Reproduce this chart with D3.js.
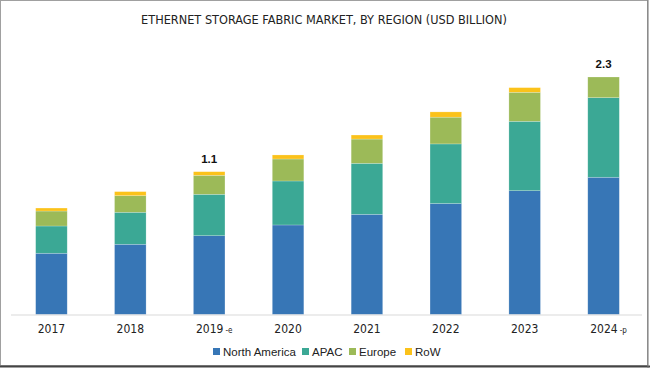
<!DOCTYPE html>
<html><head><meta charset="utf-8">
<script src="https://cdn.jsdelivr.net/npm/d3@7"></script>
<style>body{margin:0;background:#fff}svg{display:block}</style>
</head><body>
<svg id="c" width="650" height="368"></svg>
<script>
const years = ["2017","2018","2019","2020","2021","2022","2023","2024"];
const yearSuffix = ["","","-e","","","","","-p"];
const seriesNames = ["North America","APAC","Europe","RoW"];
const northAmerica = [0.593,0.680,0.763,0.867,0.970,1.075,1.199,1.329];
const apac =         [0.264,0.310,0.401,0.426,0.494,0.577,0.672,0.771];
const europe =       [0.145,0.161,0.184,0.213,0.235,0.259,0.281,0.200];
const row =          [0.029,0.039,0.035,0.039,0.039,0.051,0.045,0.000];
const valueLabels = [{year:"2019",text:"1.1"},{year:"2024",text:"2.3"}];
const colors = ["#3776b6","#3ba895","#9cba58","#fbc21a"];
const title = "ETHERNET STORAGE FABRIC MARKET, BY REGION (USD BILLION)";

const svg = d3.select("#c");
const data = years.map((y,i)=>({year:y,"North America":northAmerica[i],"APAC":apac[i],"Europe":europe[i],"RoW":row[i]}));
const stack = d3.stack().keys(seriesNames)(data);

const x = d3.scaleBand().domain(years).range([12,643]).paddingInner(0.6).paddingOuter(0.3);
const y = d3.scaleLinear().domain([0,2.3]).range([314.5,77]);
const color = d3.scaleOrdinal().domain(seriesNames).range(colors);

// frame
svg.append("rect").attr("x",0.5).attr("y",0.5).attr("width",647).attr("height",365)
  .attr("fill","none").attr("stroke","#a0a0a0");
svg.append("line").attr("x1",0).attr("x2",650).attr("y1",366.5).attr("y2",366.5).attr("stroke","#444").attr("stroke-width",2);
svg.append("line").attr("x1",648).attr("x2",648).attr("y1",0).attr("y2",368).attr("stroke","#777").attr("stroke-width",1);

svg.append("text").attr("x",324).attr("y",24).attr("text-anchor","middle")
  .attr("font-family","'Liberation Sans Narrow','DejaVu Sans Condensed',sans-serif").attr("font-size",12.6)
  .attr("fill","#222").text(title);

svg.append("g").selectAll("g").data(stack).join("g").attr("fill",d=>color(d.key))
  .selectAll("rect").data(d=>d).join("rect")
  .attr("x",d=>x(d.data.year)).attr("width",x.bandwidth())
  .attr("y",d=>y(d[1])).attr("height",d=>Math.max(0,y(d[0])-y(d[1])))
  .attr("stroke","rgba(255,255,255,0.35)").attr("stroke-width",0.6);

// axis
const ax = svg.append("g").attr("transform","translate(0,314.5)")
  .call(d3.axisBottom(x).tickSize(0).tickFormat(""));
ax.select(".domain").attr("stroke","#d9d9d9").attr("d","M11,0.5H642");

const lab = svg.append("g").selectAll("text").data(years).join("text")
  .attr("x",d=>x(d)+x.bandwidth()/2).attr("y",333).attr("text-anchor","middle")
  .attr("font-family","'Liberation Sans Narrow','DejaVu Sans Condensed',sans-serif").attr("font-size",12).attr("fill","#222");
lab.append("tspan").text(d=>d);
lab.append("tspan").attr("font-size",8).attr("dx",2).text((d,i)=>yearSuffix[i]);
lab.attr("dx",(d,i)=>yearSuffix[i]?5:0);

svg.append("g").selectAll("text").data(valueLabels).join("text")
  .attr("x",d=>x(d.year)+x.bandwidth()/2).attr("y",d=>{const i=years.indexOf(d.year);return y(northAmerica[i]+apac[i]+europe[i]+row[i])-9;})
  .attr("text-anchor","middle").attr("font-family","'Liberation Sans',Arial,sans-serif").attr("font-weight","bold")
  .attr("font-size",11.5).attr("fill","#111").text(d=>d.text);

// legend
const legX = [213,302,349,405];
const lg = svg.append("g").selectAll("g").data(seriesNames).join("g")
  .attr("transform",(d,i)=>`translate(${legX[i]},352)`);
lg.append("rect").attr("x",0).attr("y",-4).attr("width",7).attr("height",7).attr("fill",d=>color(d));
lg.append("text").attr("x",10).attr("y",4).attr("font-family","'Liberation Sans',Arial,sans-serif")
  .attr("font-size",11.5).attr("fill","#222").text(d=>d);
</script>
</body></html>
